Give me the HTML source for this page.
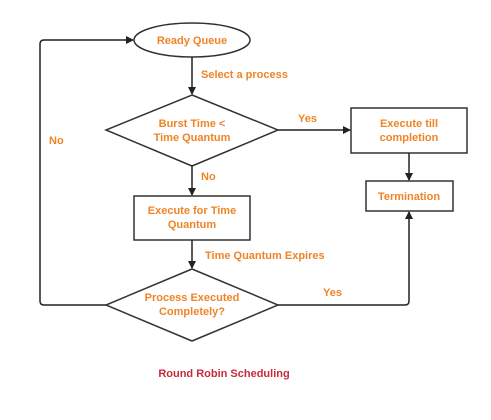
<!DOCTYPE html>
<html><head><style>
html,body{margin:0;padding:0;background:#fff;}
svg text{font-family:"Liberation Sans",sans-serif;font-weight:bold;font-size:11px;fill:#ef8426;}
</style></head><body>
<svg width="491" height="415" viewBox="0 0 491 415" xmlns="http://www.w3.org/2000/svg">
<defs><marker id="a" markerWidth="8" markerHeight="8" refX="7" refY="4" orient="auto" markerUnits="userSpaceOnUse"><path d="M0,0 L8,4 L0,8 z" fill="#222"/></marker></defs>
<g stroke="#333" stroke-width="1.5" fill="#fff">
<ellipse cx="192" cy="40" rx="58" ry="17"/>
<polygon points="192,95 278,130 192,166 106,130"/>
<rect x="351" y="108" width="116" height="45"/>
<rect x="366" y="181" width="87" height="30"/>
<rect x="134" y="196" width="116" height="44"/>
<polygon points="192,269 278,305 192,341 106,305"/>
</g>
<g stroke="#222" stroke-width="1.5" fill="none">
<line x1="192" y1="57" x2="192" y2="94" marker-end="url(#a)"/>
<line x1="278" y1="130" x2="350" y2="130" marker-end="url(#a)"/>
<line x1="409" y1="153" x2="409" y2="180" marker-end="url(#a)"/>
<line x1="192" y1="166" x2="192" y2="195" marker-end="url(#a)"/>
<line x1="192" y1="240" x2="192" y2="268" marker-end="url(#a)"/>
<path d="M278,305 H405 Q409,305 409,301 V212" marker-end="url(#a)"/>
<path d="M106,305 H44 Q40,305 40,301 V44 Q40,40 44,40 H133" marker-end="url(#a)"/>
</g>
<text x="192" y="44" text-anchor="middle">Ready Queue</text>
<text x="201" y="78">Select a process</text>
<text x="192" y="127" text-anchor="middle">Burst Time &lt;</text>
<text x="192" y="141" text-anchor="middle">Time Quantum</text>
<text x="298" y="122">Yes</text>
<text x="409" y="127" text-anchor="middle">Execute till</text>
<text x="409" y="141" text-anchor="middle">completion</text>
<text x="409" y="200" text-anchor="middle">Termination</text>
<text x="49" y="144">No</text>
<text x="201" y="180">No</text>
<text x="192" y="214" text-anchor="middle">Execute for Time</text>
<text x="192" y="228" text-anchor="middle">Quantum</text>
<text x="205" y="259">Time Quantum Expires</text>
<text x="192" y="301" text-anchor="middle">Process Executed</text>
<text x="192" y="315" text-anchor="middle">Completely?</text>
<text x="323" y="296">Yes</text>
<text x="224" y="377" text-anchor="middle" style="fill:#c62a3a">Round Robin Scheduling</text>
</svg>
</body></html>
